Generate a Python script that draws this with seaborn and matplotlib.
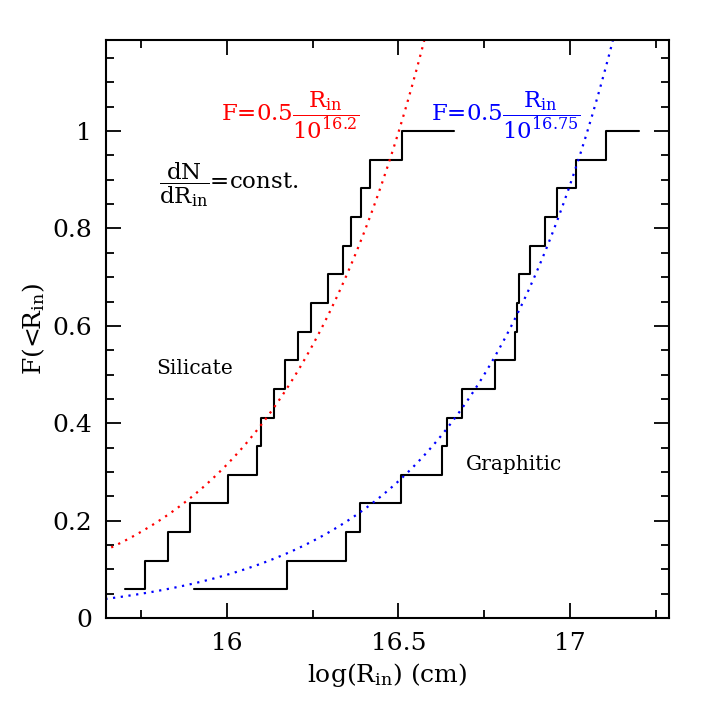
import numpy as np
import pandas as pd
import matplotlib
matplotlib.use("Agg")
import matplotlib.pyplot as plt
import seaborn as sns
from matplotlib.ticker import MultipleLocator, FormatStrFormatter

# step positions (log R_in) for the two cumulative distributions
sil_x = [15.701, 15.761, 15.828, 15.893, 16.004, 16.087, 16.099, 16.136, 16.170,
         16.208, 16.244, 16.293, 16.338, 16.362, 16.390, 16.416, 16.510, 16.663]
gra_x = [15.903, 16.174, 16.346, 16.389, 16.506, 16.628, 16.641, 16.685, 16.781,
         16.840, 16.846, 16.851, 16.883, 16.928, 16.963, 17.019, 17.104, 17.201]
n_src = 17
levels = list(range(1, n_src + 1)) + [n_src]

# model curves F = 0.5 R / 10^logR0
sil_logr0 = 16.2
gra_logr0 = 16.75

sns.set_style("ticks")
plt.rcParams['font.family'] = ['DejaVu Serif']
plt.rcParams['mathtext.fontset'] = 'dejavuserif'
plt.rcParams['text.color'] = 'black'

fig = plt.figure(figsize=(7.08, 7.08), dpi=100)
ax = fig.add_axes([0.1497, 0.127, 0.7953, 0.8165])

sil = pd.DataFrame({"x": sil_x, "F": np.array(levels) / n_src})
gra = pd.DataFrame({"x": gra_x, "F": np.array(levels) / n_src})
sns.lineplot(data=sil, x="x", y="F", ax=ax, color="black", lw=1.5,
             drawstyle="steps-post", estimator=None, sort=False)
sns.lineplot(data=gra, x="x", y="F", ax=ax, color="black", lw=1.5,
             drawstyle="steps-post", estimator=None, sort=False)

xx = np.linspace(15.6, 17.3, 400)
sns.lineplot(x=xx, y=0.5 * 10 ** (xx - sil_logr0), ax=ax, color="red",
             lw=1.6, linestyle=(0, (1, 2.5)))
sns.lineplot(x=xx, y=0.5 * 10 ** (xx - gra_logr0), ax=ax, color="blue",
             lw=1.6, linestyle=(0, (1, 2.5)))

ax.set_xlim(15.647, 17.289)
ax.set_ylim(0, 1.187)

ax.xaxis.set_major_locator(MultipleLocator(0.5))
ax.xaxis.set_minor_locator(MultipleLocator(0.25))
ax.yaxis.set_major_locator(MultipleLocator(0.2))
ax.yaxis.set_minor_locator(MultipleLocator(0.05))
ax.yaxis.set_major_formatter(FormatStrFormatter('%g'))
ax.xaxis.set_major_formatter(FormatStrFormatter('%g'))
ax.tick_params(which="both", direction="in", top=True, right=True, width=1.3,
               color="black", labelcolor="black")
ax.tick_params(which="major", length=11, labelsize=18, pad=10)
ax.tick_params(which="minor", length=5.5)
for s in ax.spines.values():
    s.set_linewidth(1.5)
    s.set_color("black")
    s.set_visible(True)

ax.set_xlabel(r"log(R$_{\rm in}$) (cm)", fontsize=18, color="black")
ax.set_ylabel(r"F(<R$_{\rm in}$)", fontsize=18, color="black")

ax.text(0.205, 0.87, r"F=0.5$\dfrac{\mathrm{R_{in}}}{\mathrm{10^{16.2}}}$",
        transform=ax.transAxes, color="red", fontsize=16.5, va="center")
ax.text(0.578, 0.87, r"F=0.5$\dfrac{\mathrm{R_{in}}}{\mathrm{10^{16.75}}}$",
        transform=ax.transAxes, color="blue", fontsize=16.5, va="center")
ax.text(0.095, 0.75, r"$\dfrac{\mathrm{dN}}{\mathrm{dR_{in}}}$=const.",
        transform=ax.transAxes, color="black", fontsize=16.5, va="center")
ax.text(0.09, 0.432, "Silicate", transform=ax.transAxes, fontsize=14.5,
        va="center", color="black")
ax.text(0.64, 0.265, "Graphitic", transform=ax.transAxes, fontsize=14.5,
        va="center", color="black")

fig.savefig("out.png", dpi=100)
